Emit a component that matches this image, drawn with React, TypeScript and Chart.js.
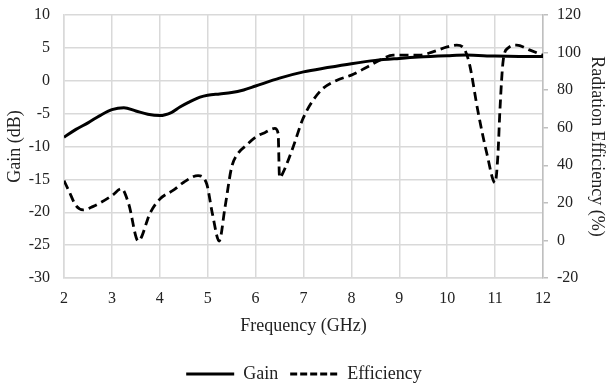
import React, { useEffect, useRef } from "react";
import { Chart, registerables } from "chart.js";

Chart.register(...registerables);

const gainFreq = [2.0, 2.25, 2.5, 2.75, 3.0, 3.25, 3.5, 3.75, 4.0, 4.25, 4.42, 4.6, 4.84, 5.0, 5.25, 5.5, 5.75, 6.0, 6.5, 7.0, 7.5, 8.0, 8.5, 9.0, 9.4, 10.0, 10.4, 11.0, 11.5, 12.0];
const gainDb = [-8.6, -7.4, -6.4, -5.3, -4.4, -4.1, -4.6, -5.1, -5.3, -4.8, -4.0, -3.3, -2.5, -2.2, -2.0, -1.8, -1.4, -0.8, 0.4, 1.35, 2.0, 2.6, 3.1, 3.4, 3.6, 3.8, 3.9, 3.75, 3.7, 3.7];

const effFreq = [2.0, 2.1, 2.25, 2.4, 2.6, 3.0, 3.2, 3.35, 3.55, 3.8, 4.0, 4.3, 4.5, 4.8, 4.98, 5.1, 5.24, 5.36, 5.5, 5.63, 5.8, 6.0, 6.2, 6.4, 6.47, 6.5, 6.57, 6.78, 6.99, 7.2, 7.41, 7.7, 8.0, 8.32, 8.6, 8.87, 9.29, 9.43, 9.7, 10.0, 10.2, 10.37, 10.47, 10.64, 10.83, 11.0, 11.06, 11.1, 11.17, 11.27, 11.45, 11.73, 12.0];
const effPct = [31.8, 26.5, 18.5, 16.3, 18, 23.8, 27.5, 19.5, -0.3, 14.7, 22, 27, 31, 34.5, 30, 14, -0.3, 17.4, 39, 46.2, 50.5, 55, 57.5, 59.6, 57, 33.4, 36, 49.5, 64.9, 74.6, 81, 85.3, 88, 92.2, 96, 98.6, 98.6, 98.6, 100.4, 103, 104, 101.3, 93.3, 69, 46, 30.7, 46, 69, 96, 102.4, 104, 101.3, 98.6];

const seriesNames = ["Gain", "Efficiency"];

const xTitle = "Frequency (GHz)";
const yTitle = "Gain (dB)";
const y1Title = "Radiation Efficiency (%)";

export default function App() {
  const ref = useRef<HTMLCanvasElement | null>(null);
  useEffect(() => {
    if (!ref.current) return;
    const font = "'Liberation Serif', 'Times New Roman', serif";
    const txt = "#222";
    const grid = "#d9d9d9";
    const chart = new Chart(ref.current, {
      type: "line",
      data: {
        datasets: [
          {
            label: seriesNames[0],
            data: gainFreq.map((f, i) => ({ x: f, y: gainDb[i] })),
            borderColor: "#000",
            backgroundColor: "#000",
            borderWidth: 3,
            pointRadius: 0,
            cubicInterpolationMode: "monotone",
            yAxisID: "y",
          },
          {
            label: seriesNames[1],
            data: effFreq.map((f, i) => ({ x: f, y: effPct[i] })),
            borderColor: "#000",
            backgroundColor: "#000",
            borderWidth: 2.8,
            borderDash: [9, 5],
            pointRadius: 0,
            cubicInterpolationMode: "monotone",
            yAxisID: "y1",
          },
        ],
      },
      options: {
        animation: false,
        responsive: true,
        maintainAspectRatio: false,
        layout: { padding: { top: 15, left: 0, right: 0, bottom: -8 } },
        plugins: {
          tooltip: { enabled: false },
          legend: {
            position: "bottom",
            labels: {
              font: { family: font, size: 18 },
              color: txt,
              usePointStyle: true,
              pointStyle: "line",
              pointStyleWidth: 48,
              boxHeight: 10,
              padding: 12,
              generateLabels: (c: any) =>
                c.data.datasets.map((d: any, i: number) => ({
                  text: d.label,
                  fillStyle: "#000",
                  strokeStyle: "#000",
                  lineWidth: 3,
                  lineDash: i === 1 ? [7, 3] : [],
                  pointStyle: "line",
                  datasetIndex: i,
                  hidden: false,
                  fontColor: txt,
                })),
            },
          },
        },
        scales: {
          x: {
            type: "linear",
            min: 2,
            max: 12,
            ticks: { stepSize: 1, font: { family: font, size: 16 }, color: txt, padding: 11 },
            grid: { color: grid, lineWidth: 1.5, drawTicks: false },
            border: { color: grid, width: 1.5 },
            title: { display: true, text: xTitle, font: { family: font, size: 18 }, color: txt, padding: { top: 4, bottom: 16 } },
            afterFit: (s: any) => { s.height = 75; },
          },
          y: {
            position: "left",
            min: -30,
            max: 10,
            ticks: { stepSize: 5, font: { family: font, size: 16 }, color: txt, padding: 14 },
            grid: { color: grid, lineWidth: 1.5, drawTicks: false },
            border: { color: grid, width: 1.5 },
            title: { display: true, text: yTitle, font: { family: font, size: 18 }, color: txt, padding: { top: 4, bottom: 4 } },
            afterFit: (s: any) => { s.width = 64; s.paddingTop = 0; s.paddingBottom = 0; },
          },
          y1: {
            position: "right",
            min: -20,
            max: 120,
            ticks: { stepSize: 20, font: { family: font, size: 16 }, color: txt, padding: 9 },
            grid: { drawOnChartArea: false, color: "#bfbfbf", lineWidth: 1.5, tickLength: 5 },
            border: { color: "#bfbfbf", width: 1.5 },
            title: { display: true, text: y1Title, font: { family: font, size: 18 }, color: txt, padding: { top: 0, bottom: 4 } },
            afterFit: (s: any) => { s.width = 65; s.paddingTop = 0; s.paddingBottom = 0; },
          },
        },
      },
    });
    return () => chart.destroy();
  }, []);
  return (
    <div style={{ position: "fixed", left: 0, top: 0, width: 608, height: 385, background: "#fff" }}>
      <canvas ref={ref} />
    </div>
  );
}
